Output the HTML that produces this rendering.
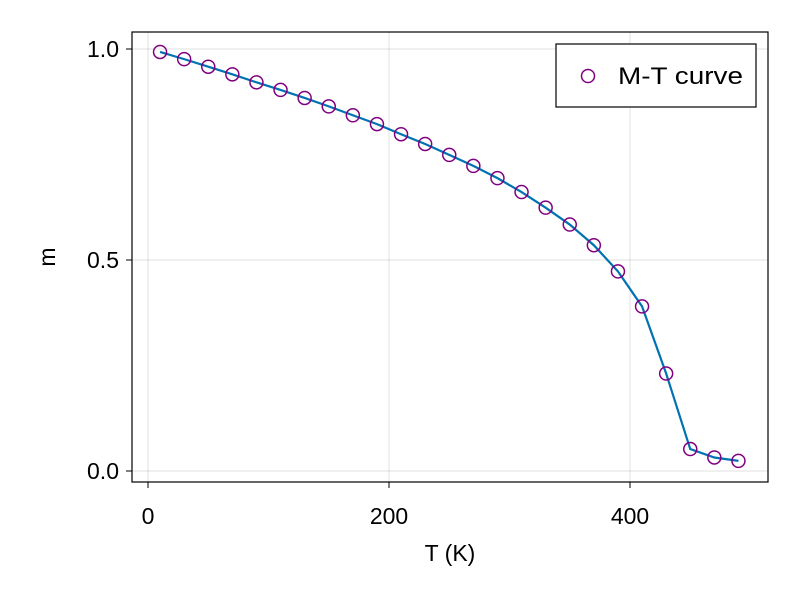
<!DOCTYPE html>
<html><head><meta charset="utf-8"><style>
body{margin:0;background:#fff;}
svg{display:block;font-family:"Liberation Sans",sans-serif;}
</style></head><body>
<svg id="chart" width="800" height="600" viewBox="0 0 800 600">
<rect width="800" height="600" fill="#fff"/>
<g id="grid"></g>
<rect x="132" y="32" width="636" height="450" fill="none" stroke="#000" stroke-width="1.2"/>
<g id="ticks"></g>
<g id="series"></g>
<text x="450" y="561" font-size="23" text-anchor="middle">T (K)</text>
<text transform="translate(55,257) rotate(-90)" font-size="23" text-anchor="middle">m</text>
<g>
<rect x="556" y="44" width="200" height="63" fill="#fff" stroke="#000" stroke-width="1.2"/>
<circle cx="588" cy="76" r="6.5" fill="none" stroke="#800080" stroke-width="1.5"/>
<text x="618" y="84" font-size="24" textLength="125" lengthAdjust="spacingAndGlyphs">M-T curve</text>
</g>
</svg>
<script>
const temps=[10,30,50,70,90,110,130,150,170,190,210,230,250,270,290,310,330,350,370,390,410,430,450,470,490];
const mags=[0.993,0.976,0.958,0.940,0.921,0.903,0.884,0.864,0.843,0.822,0.798,0.775,0.749,0.723,0.694,0.661,0.624,0.584,0.535,0.473,0.390,0.231,0.052,0.032,0.024];
const xTicks=[0,200,400];
const xTickLabels=["0","200","400"];
const yTicks=[0,0.5,1.0];
const yTickLabels=["0.0","0.5","1.0"];
const NS="http://www.w3.org/2000/svg";
const xs=v=>148+v*1.205;
const ys=v=>471-v*422;
function mk(t,a,p){const e=document.createElementNS(NS,t);for(const k in a)e.setAttribute(k,a[k]);p.appendChild(e);return e;}
const grid=document.getElementById('grid'),ticks=document.getElementById('ticks'),ser=document.getElementById('series');
xTicks.forEach((v,i)=>{
 const g=mk('line',{x1:xs(v),x2:xs(v),y1:32,y2:482,stroke:'#000','stroke-opacity':0.12,'stroke-width':1},grid);
 
 
 const t=mk('line',{x1:xs(v),x2:xs(v),y1:482,y2:488,stroke:'#000','stroke-width':1},ticks);
 
 
 const l=mk('text',{x:xs(v),y:524,'font-size':23,'text-anchor':'middle'},ticks);l.textContent=xTickLabels[i];
 
 
});
yTicks.forEach((v,i)=>{
 const g=mk('line',{x1:132,x2:768,y1:ys(v),y2:ys(v),stroke:'#000','stroke-opacity':0.12,'stroke-width':1},grid);
 
 
 const t=mk('line',{x1:126,x2:132,y1:ys(v),y2:ys(v),stroke:'#000','stroke-width':1},ticks);
 
 
 const l=mk('text',{x:119,y:ys(v)+8,'font-size':23,'text-anchor':'end'},ticks);l.textContent=yTickLabels[i];
 
 
});
const pl=mk('polyline',{points:temps.map((t,i)=>xs(t)+','+ys(mags[i])).join(' '),fill:'none',stroke:'#0072b2','stroke-width':2.2},ser);


temps.forEach((t,i)=>{
 const c=mk('circle',{cx:xs(t),cy:ys(mags[i]),r:6.5,fill:'none',stroke:'#800080','stroke-width':1.5},ser);
 
 
});
</script>
</body></html>
